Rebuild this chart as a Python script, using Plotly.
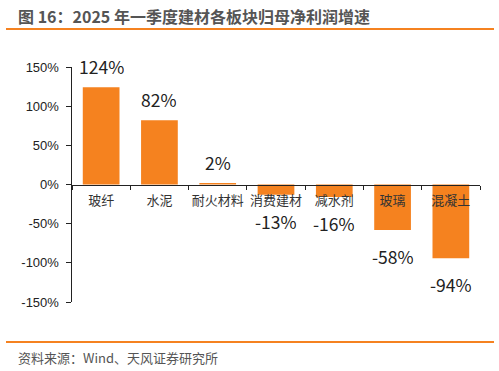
import plotly.graph_objects as go

categories = ["玻纤", "水泥", "耐火材料", "消费建材", "减水剂", "玻璃", "混凝土"]
growth = [124, 82, 2, -13, -16, -58, -94]
labels = ["124%", "82%", "2%", "-13%", "-16%", "-58%", "-94%"]
y_ticks = [-150, -100, -50, 0, 50, 100, 150]
y_tick_text = ["-150%", "-100%", "-50%", "0%", "50%", "100%", "150%"]

ORANGE = "#F5821F"
FONT = "Noto Sans CJK SC"

L, R, T, B = 72, 19, 67, 69
PW, PH = 499 - L - R, 371 - T - B

fig = go.Figure()
fig.add_trace(go.Bar(x=categories, y=growth, marker=dict(color=ORANGE, line=dict(width=0)),
                     hoverinfo="skip"))

for c, v, t in zip(categories, growth, labels):
    fig.add_annotation(x=c, y=v, text=t, showarrow=False, height=16,
                       yanchor="bottom" if v >= 0 else "top",
                       yshift=11 if v >= 0 else -16,
                       font=dict(family=FONT, size=17.5, color="#222"))

fig.update_layout(
    width=499, height=371,
    margin=dict(l=L, r=R, t=T, b=B),
    paper_bgcolor="white", plot_bgcolor="white",
    showlegend=False, bargap=0.37,
    font=dict(family=FONT, color="#333"),
    xaxis=dict(anchor="free", position=0.5, showline=True, linecolor="#222", linewidth=1.5,
               ticks="outside", tickson="boundaries", ticklen=4, tickcolor="#222",
               ticklabelstandoff=3, tickangle=0,
               tickfont=dict(size=13, color="#333"), showgrid=False, zeroline=False),
    yaxis=dict(range=[-150, 150], tickvals=y_ticks, ticktext=y_tick_text,
               showline=True, linecolor="#222", linewidth=1.5, ticks="outside", ticklen=5,
               ticklabelstandoff=4,
               tickcolor="#222", tickfont=dict(family="Liberation Sans", size=13, color="#222"),
               showgrid=False, zeroline=False),
)

def px(x):
    return (x - L) / PW

def py(y):
    return 1 - (y - T) / PH

fig.add_annotation(xref="paper", yref="paper", x=px(16), y=py(16), xanchor="left", yanchor="middle",
                   text="<b>图 16：2025 年一季度建材各板块归母净利润增速</b>", showarrow=False,
                   font=dict(family=FONT, size=16, color="#555"))
fig.add_annotation(xref="paper", yref="paper", x=px(16), y=py(357), xanchor="left", yanchor="middle",
                   text="资料来源：Wind、天风证券研究所", showarrow=False,
                   font=dict(family=FONT, size=13, color="#555"))
fig.add_shape(type="line", xref="paper", yref="paper", x0=px(6), x1=px(494),
              y0=py(29), y1=py(29), line=dict(color="#F58220", width=2))
fig.add_shape(type="line", xref="paper", yref="paper", x0=px(6), x1=px(494),
              y0=py(342), y1=py(342), line=dict(color="#F58220", width=2))

fig.write_html("out.html", config={"displayModeBar": False, "staticPlot": True},
               post_script="document.body.style.margin='0';document.body.style.overflow='hidden';")
